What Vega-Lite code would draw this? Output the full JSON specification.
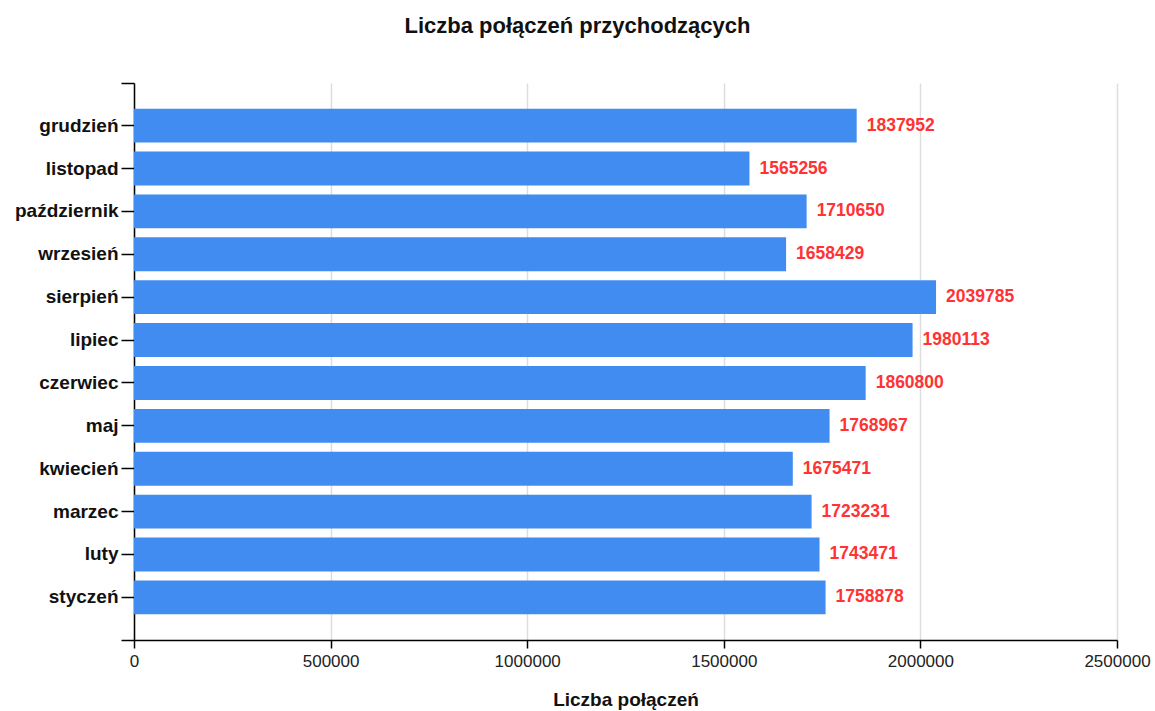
{
  "$schema": "https://vega.github.io/schema/vega-lite/v6.json",
  "autosize": "none",
  "width": 983,
  "height": 557,
  "padding": {"left": 134, "top": 83, "right": 38, "bottom": 71},
  "background": "white",
  "title": {
    "text": "Liczba połączeń przychodzących",
    "font": "Liberation Sans",
    "fontSize": 22,
    "fontWeight": "bold",
    "color": "#111111",
    "anchor": "middle",
    "dx": -48,
    "offset": 44
  },
  "data": {
    "values": [
      {"miesiac": "grudzień", "liczba": 1837952},
      {"miesiac": "listopad", "liczba": 1565256},
      {"miesiac": "październik", "liczba": 1710650},
      {"miesiac": "wrzesień", "liczba": 1658429},
      {"miesiac": "sierpień", "liczba": 2039785},
      {"miesiac": "lipiec", "liczba": 1980113},
      {"miesiac": "czerwiec", "liczba": 1860800},
      {"miesiac": "maj", "liczba": 1768967},
      {"miesiac": "kwiecień", "liczba": 1675471},
      {"miesiac": "marzec", "liczba": 1723231},
      {"miesiac": "luty", "liczba": 1743471},
      {"miesiac": "styczeń", "liczba": 1758878}
    ]
  },
  "encoding": {
    "x": {
      "field": "liczba",
      "type": "quantitative",
      "scale": {"domain": [0, 2500000], "nice": false},
      "axis": {
        "title": "Liczba połączeń",
        "titleFont": "Liberation Sans",
        "titleFontSize": 19,
        "titleFontWeight": "bold",
        "titleColor": "#111111",
        "titlePadding": 21,
        "values": [0, 500000, 1000000, 1500000, 2000000, 2500000],
        "format": "d",
        "labelFlush": false,
        "domainColor": "#000000",
        "domainWidth": 1.5,
        "tickColor": "#000000",
        "tickWidth": 1.5,
        "tickSize": 8,
        "labelPadding": 5,
        "labelFont": "Liberation Sans",
        "labelFontSize": 17,
        "labelColor": "#222222",
        "grid": true,
        "gridColor": "#dddddd",
        "gridWidth": 1.5
      }
    }
  },
  "layer": [
    {
      "layer": [
        {
          "mark": {"type": "bar", "color": "#418CF0"}
        },
        {
          "mark": {
            "type": "text",
            "align": "left",
            "baseline": "middle",
            "dx": 10,
            "font": "Liberation Sans",
            "fontSize": 17.5,
            "fontWeight": "bold",
            "color": "#FF3333"
          },
          "encoding": {
            "text": {"field": "liczba", "type": "quantitative", "format": "d"}
          }
        }
      ],
      "encoding": {
        "y": {
          "field": "miesiac",
          "type": "nominal",
          "sort": null,
          "scale": {"paddingInner": 0.21, "paddingOuter": 0.6},
          "axis": {
            "title": null,
            "domainColor": "#000000",
            "domainWidth": 1.5,
            "tickColor": "#000000",
            "tickWidth": 1.5,
            "tickSize": 13,
            "labelPadding": 3,
            "labelFont": "Liberation Sans",
            "labelFontSize": 19,
            "labelFontWeight": "bold",
            "labelColor": "#111111",
            "grid": false
          }
        }
      }
    },
    {
      "mark": {"type": "point", "opacity": 0},
      "encoding": {
        "y": {
          "datum": 0.5,
          "type": "quantitative",
          "scale": {"domain": [0, 1], "nice": false},
          "axis": {
            "orient": "left",
            "title": null,
            "values": [0, 1],
            "labels": false,
            "domain": false,
            "grid": false,
            "tickColor": "#000000",
            "tickWidth": 1.5,
            "tickSize": 13
          }
        }
      }
    }
  ],
  "resolve": {"scale": {"y": "independent"}, "axis": {"y": "independent"}},
  "config": {"view": {"stroke": null}}
}
